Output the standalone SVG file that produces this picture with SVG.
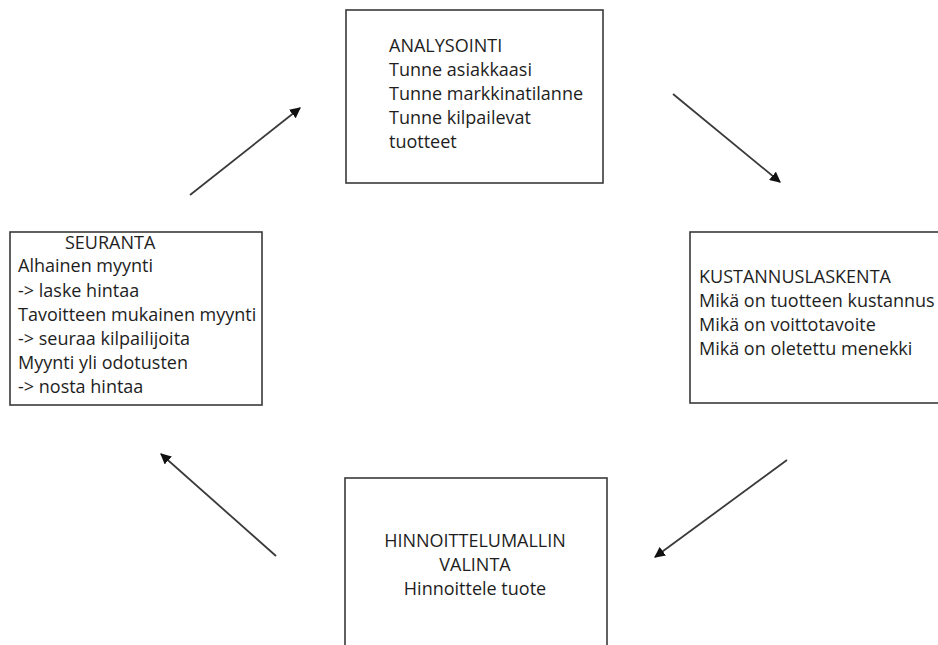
<svg xmlns="http://www.w3.org/2000/svg" width="938" height="645" viewBox="0 0 938 645">
  <style>
    .box { fill: #ffffff; stroke: #3a3a3a; stroke-width: 1.6; }
    .lbl { font-family: "Open Sans", "Liberation Sans", sans-serif; font-size: 18px; fill: #1e1e1e; }
    .mid { text-anchor: middle; }
    .conn { stroke: #3a3a3a; stroke-width: 1.8; fill: none; marker-end: url(#head); }
  </style>
  <defs>
    <marker id="head" viewBox="0 0 10 10" refX="9" refY="5" markerWidth="6" markerHeight="6" orient="auto" markerUnits="strokeWidth">
      <path d="M0,0 L10,5 L0,10 z" fill="#111111"/>
    </marker>
  </defs>
  <rect width="938" height="645" fill="#ffffff"/>

  <g id="analysointi">
    <rect class="box" x="346" y="10" width="257" height="173"/>
    <text class="lbl" x="389" y="52">ANALYSOINTI</text>
    <text class="lbl" x="389" y="76">Tunne asiakkaasi</text>
    <text class="lbl" x="389" y="100">Tunne markkinatilanne</text>
    <text class="lbl" x="389" y="124">Tunne kilpailevat</text>
    <text class="lbl" x="389" y="148">tuotteet</text>
  </g>

  <g id="kustannuslaskenta">
    <rect class="box" x="690" y="232" width="260" height="171"/>
    <text class="lbl" x="699" y="283">KUSTANNUSLASKENTA</text>
    <text class="lbl" x="699" y="307">Mikä on tuotteen kustannus</text>
    <text class="lbl" x="699" y="331">Mikä on voittotavoite</text>
    <text class="lbl" x="699" y="355">Mikä on oletettu menekki</text>
  </g>

  <g id="hinnoittelu">
    <rect class="box" x="345" y="478" width="262" height="180"/>
    <text class="lbl mid" x="475" y="547">HINNOITTELUMALLIN</text>
    <text class="lbl mid" x="475" y="571">VALINTA</text>
    <text class="lbl mid" x="475" y="595">Hinnoittele tuote</text>
  </g>

  <g id="seuranta">
    <rect class="box" x="10" y="232" width="252" height="173"/>
    <text class="lbl" x="65" y="249">SEURANTA</text>
    <text class="lbl" x="18" y="272">Alhainen myynti</text>
    <text class="lbl" x="18" y="297">-&gt; laske hintaa</text>
    <text class="lbl" x="18" y="321">Tavoitteen mukainen myynti</text>
    <text class="lbl" x="18" y="345">-&gt; seuraa kilpailijoita</text>
    <text class="lbl" x="18" y="369">Myynti yli odotusten</text>
    <text class="lbl" x="18" y="393">-&gt; nosta hintaa</text>
  </g>

  <g id="connectors">
    <line class="conn" x1="673" y1="94" x2="780" y2="182"/>
    <line class="conn" x1="787" y1="460" x2="655" y2="557"/>
    <line class="conn" x1="276" y1="556" x2="161" y2="454"/>
    <line class="conn" x1="190" y1="195" x2="300" y2="108"/>
  </g>
</svg>
